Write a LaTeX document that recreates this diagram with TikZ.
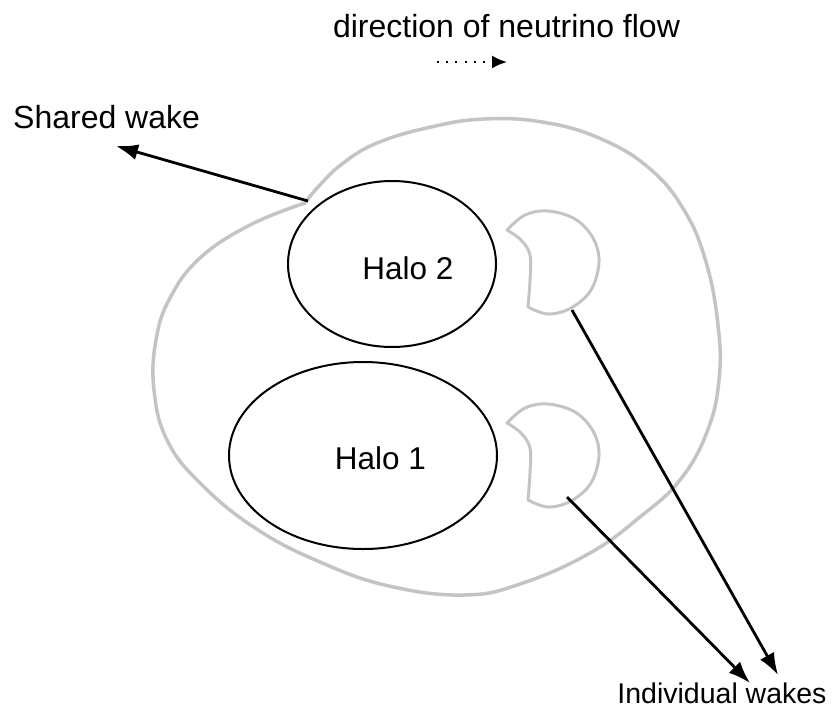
\documentclass[tikz,border=0pt]{standalone}
\usepackage{fontspec}
\setmainfont{Liberation Sans}
\usetikzlibrary{shapes.geometric,arrows.meta}
\definecolor{pencilgray}{RGB}{196,196,196}
\begin{document}
\begin{tikzpicture}[x=1pt,y=-1pt,
  lbl/.style={inner sep=0pt,anchor=base,font=\fontsize{32}{36}\selectfont},
  halo/.style={draw=black,line width=2pt,ellipse,inner sep=0pt},
  pencil/.style={draw=pencilgray,line width=3.5pt,line join=round,line cap=round},
  ptr/.style={draw=black,line width=2.8pt,-{Latex[length=22pt,width=16pt]}}]
\useasboundingbox (0,0) rectangle (833,713);
% title
\node[lbl] (title) at (506.5,37) {direction of neutrino flow};
\coordinate (fa) at (437,62);
\coordinate (fb) at (507,62);
\draw[line width=2.2pt,dash pattern=on 2pt off 7.2pt,-{Latex[length=15pt,width=13pt]}] (fa) -- (fb);
% outer shared wake
\draw[pencil] plot[smooth,tension=0.7] coordinates{(305,203) (318,187) (342,164) (377,143) (431,127) (484,119) (542,122) (599,138) (649,168) (684,210) (706,262) (718,325) (719,380) (707,432) (680,480) (640,517) (590,553) (523,583) (465,595) (389,586) (320,562) (255,528) (200,483) (167,440) (154,390) (156,340) (170,298) (200,258) (250,225) (305,203)};
% wakes
\draw[pencil,line width=3pt] plot[smooth,tension=0.6] coordinates{(507,230) (525,215) (548,211) (575,219) (593,238) (599,262) (591,290) (571,308) (548,314) (528,307)}
  plot[smooth,tension=0.6] coordinates{(528,307) (530,280) (530,255) (521,240) (507,230)};
\draw[pencil,line width=3pt] plot[smooth,tension=0.6] coordinates{(507,423) (525,408) (548,404) (575,412) (593,431) (599,455) (591,483) (571,501) (548,507) (528,500)}
  plot[smooth,tension=0.6] coordinates{(528,500) (530,473) (530,448) (521,433) (507,423)};
% halos
\node[halo,minimum width=208pt,minimum height=166pt] (h2) at (392,264) {};
\node[lbl,font=\fontsize{31.5}{36}\selectfont] (h2t) at (408,279) {Halo 2};
\node[halo,minimum width=268pt,minimum height=187pt] (h1) at (363,455.5) {};
\node[lbl,font=\fontsize{31.5}{36}\selectfont] (h1t) at (380.5,469) {Halo 1};
% labels
\node[lbl,anchor=base west] (sw) at (13,128) {Shared wake};
\node[lbl,font=\fontsize{28.5}{32}\selectfont] (iw) at (722,703) {Individual wakes};
\coordinate (notch) at (308,201);
\coordinate (swtip) at (116,146);
\coordinate (w2) at (572,310);
\coordinate (w2tip) at (778,675);
\coordinate (w1) at (567,497);
\coordinate (w1tip) at (750,683);
\draw[ptr] (notch) -- (swtip);
\draw[ptr] (w2) -- (w2tip);
\draw[ptr] (w1) -- (w1tip);
\end{tikzpicture}
\end{document}
